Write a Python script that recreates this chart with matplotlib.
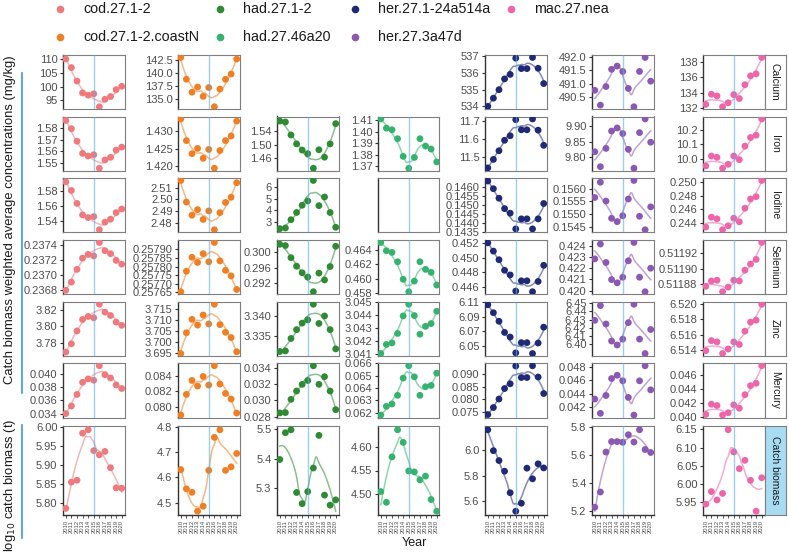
"""
Nutrient concentration / catch biomass facets per stock, 2010-2020.
"""

import numpy as np
import matplotlib
matplotlib.use("Agg")
import matplotlib.pyplot as plt
from matplotlib.lines import Line2D

# ── Style Config ───────────────────────────────────────────────
plt.rcParams.update({
    "font.family": ["Liberation Sans", "DejaVu Sans"],
    "font.size": 8,
    "figure.facecolor": "white",
    "axes.facecolor": "white",
})

FIG_W, FIG_H = 789, 552
TEXT = "#1a1a1a"
TICK_TEXT = "#4d4d4d"
FRAME = "#7f7f7f"
VLINE = "#5dade2"
BRACKET = "#3a9bdc"

# ── Data ───────────────────────────────────────────────────────
years = np.arange(2010, 2021)
nutrients = ["Calcium", "Iron", "Iodine", "Selenium", "Zinc", "Mercury", "Catch biomass"]
stocks = ["cod.27.1-2", "cod.27.1-2.coastN", "had.27.1-2", "had.27.46a20",
          "her.27.1-24a514a", "her.27.3a47d", "mac.27.nea"]
stock_colors = ["#ee7a7e", "#ef7f22", "#2e8b34", "#35b36e", "#1f2a77", "#8b59b3", "#ee66aa"]

cod_27_1_2 = {
    "Calcium": [110.0, 106.9, 102.0, 97.7, 96.9, 97.4, 92.7, 95.4, 96.4, 98.9, 100.1],
    "Iron": [1.5861, 1.5792, 1.5686, 1.5583, 1.5561, 1.5572, 1.5458, 1.5528, 1.5550, 1.5611, 1.5636],
    "Iodine": [1.5919, 1.5804, 1.5631, 1.5477, 1.5442, 1.5455, 1.5279, 1.5380, 1.5420, 1.5508, 1.5556],
    "Selenium": [0.23680, 0.23691, 0.23708, 0.23723, 0.23728, 0.23726, 0.23744, 0.23733, 0.23729, 0.23720, 0.23715],
    "Zinc": [3.7694, 3.7792, 3.7945, 3.8082, 3.8118, 3.8102, 3.8263, 3.8169, 3.8129, 3.8051, 3.8012],
    "Mercury": [0.03400, 0.03515, 0.03690, 0.03875, 0.03925, 0.03905, 0.04125, 0.03990, 0.03940, 0.03835, 0.03780],
    "Catch biomass": [5.787, 5.856, 5.861, 5.985, 5.994, 5.939, 5.928, 5.937, 5.894, 5.841, 5.840],
}
cod_27_1_2_coastN = {
    "Calcium": [143.0, 138.8, 136.3, 137.3, 135.5, 137.2, 133.5, 136.9, 138.8, 139.8, 142.7],
    "Iron": [1.4334, 1.4273, 1.4236, 1.4251, 1.4223, 1.4248, 1.4195, 1.4245, 1.4273, 1.4286, 1.4328],
    "Iodine": [2.5161, 2.4978, 2.4867, 2.4914, 2.4831, 2.4903, 2.4744, 2.4889, 2.4975, 2.5019, 2.5142],
    "Selenium": [0.257654, 0.257773, 0.257854, 0.257824, 0.257875, 0.257828, 0.257940, 0.257833, 0.257778, 0.257746, 0.257667],
    "Zinc": [3.6947, 3.7042, 3.7103, 3.7077, 3.7123, 3.7082, 3.7172, 3.7079, 3.7044, 3.7020, 3.6955],
    "Mercury": [0.07898, 0.08162, 0.08340, 0.08268, 0.08391, 0.08281, 0.08528, 0.08294, 0.08174, 0.08102, 0.07923],
    "Catch biomass": [4.631, 4.555, 4.541, 4.466, 4.486, 4.628, 4.759, 4.789, 4.628, 4.642, 4.695],
}
had_27_1_2 = {
    "Iron": [1.5682, 1.5654, 1.5278, 1.5019, 1.4840, 1.4736, 1.4313, 1.4849, 1.4633, 1.5019, 1.5607],
    "Iodine": [2.43, 2.49, 3.20, 3.82, 4.44, 4.81, 6.57, 4.41, 5.15, 3.82, 2.55],
    "Selenium": [0.30217, 0.30183, 0.29861, 0.29635, 0.29461, 0.29348, 0.28957, 0.29452, 0.29270, 0.29626, 0.30165],
    "Zinc": [3.33115, 3.33130, 3.33443, 3.33664, 3.33828, 3.33910, 3.34303, 3.33820, 3.34008, 3.33664, 3.33180],
    "Mercury": [0.02846, 0.02850, 0.03012, 0.03114, 0.03196, 0.03243, 0.03424, 0.03196, 0.03290, 0.03114, 0.02886],
    "Catch biomass": [5.398, 5.489, 5.499, 5.286, 5.248, 5.289, 5.369, 5.480, 5.277, 5.243, 5.261],
}
had_27_46a20 = {
    "Iron": [1.4112, 1.4032, 1.4018, 1.3940, 1.3786, 1.3683, 1.3777, 1.3940, 1.3876, 1.3850, 1.3738],
    "Iodine": None,
    "Selenium": [0.46501, 0.46387, 0.46364, 0.46235, 0.45993, 0.45822, 0.45969, 0.46235, 0.46130, 0.46089, 0.45914],
    "Zinc": [3.04105, 3.04175, 3.04187, 3.04260, 3.04395, 3.04485, 3.04398, 3.04254, 3.04315, 3.04336, 3.04431],
    "Mercury": [0.0618, 0.0625, 0.0627, 0.0634, 0.0648, 0.0658, 0.0649, 0.0634, 0.0641, 0.0642, 0.0652],
    "Catch biomass": [4.505, 4.482, 4.579, 4.637, 4.610, 4.549, 4.547, 4.530, 4.538, 4.488, 4.463],
}
her_27_1_24a514a = {
    "Calcium": [534.00, 534.49, 535.00, 535.65, 535.92, 536.90, 536.27, 536.27, 536.94, 536.29, 535.37],
    "Iron": [11.440, 11.487, 11.535, 11.593, 11.618, 11.707, 11.651, 11.651, 11.711, 11.649, 11.565],
    "Iodine": [0.14630, 0.14588, 0.14536, 0.14479, 0.14454, 0.14368, 0.14423, 0.14423, 0.14368, 0.14423, 0.14507],
    "Selenium": [0.45200, 0.45088, 0.44971, 0.44828, 0.44765, 0.44546, 0.44685, 0.44685, 0.44537, 0.44676, 0.44895],
    "Zinc": [6.1068, 6.0958, 6.0839, 6.0684, 6.0620, 6.0400, 6.0542, 6.0542, 6.0391, 6.0537, 6.0757],
    "Mercury": [0.0738, 0.0766, 0.0800, 0.0842, 0.0861, 0.0932, 0.0886, 0.0886, 0.0933, 0.0888, 0.0822],
    "Catch biomass": [6.162, 5.997, 5.919, 5.835, 5.665, 5.519, 5.582, 5.859, 5.775, 5.893, 5.861],
}
her_27_3a47d = {
    "Calcium": [490.76, 490.21, 490.90, 491.54, 491.66, 491.46, 490.83, 490.15, 491.46, 491.98, 491.10],
    "Iron": [9.818, 9.770, 9.829, 9.885, 9.895, 9.877, 9.826, 9.765, 9.880, 9.924, 9.849],
    "Iodine": [0.15565, 0.15625, 0.15551, 0.15483, 0.15470, 0.15493, 0.15559, 0.15632, 0.15491, 0.15438, 0.15528],
    "Selenium": [0.42283, 0.42415, 0.42251, 0.42099, 0.42070, 0.42120, 0.42266, 0.42429, 0.42120, 0.41991, 0.42200],
    "Zinc": [6.4290, 6.4468, 6.4246, 6.4040, 6.3992, 6.4063, 6.4262, 6.4484, 6.4063, 6.3889, 6.4179],
    "Mercury": [0.04320, 0.04107, 0.04373, 0.04625, 0.04674, 0.04591, 0.04344, 0.04082, 0.04591, 0.04815, 0.04457],
    "Catch biomass": [5.228, 5.336, 5.619, 5.693, 5.693, 5.688, 5.742, 5.690, 5.777, 5.637, 5.616],
}
mac_27_nea = {
    "Calcium": [132.47, 133.79, 133.57, 132.17, 132.68, 133.74, 133.23, 135.02, 136.17, 136.43, 138.55],
    "Iron": [9.950, 10.018, 10.009, 9.934, 9.961, 10.018, 9.993, 10.086, 10.145, 10.161, 10.273],
    "Iodine": [0.24337, 0.24483, 0.24459, 0.24298, 0.24356, 0.24468, 0.24415, 0.24615, 0.24751, 0.24785, 0.25024],
    "Selenium": [0.511877, 0.511884, 0.511885, 0.511870, 0.511876, 0.511885, 0.511884, 0.511898, 0.511906, 0.511912, 0.511934],
    "Zinc": [6.51391, 6.51523, 6.51506, 6.51353, 6.51413, 6.51506, 6.51472, 6.51647, 6.51766, 6.51791, 6.52000],
    "Mercury": [0.04036, 0.04182, 0.04163, 0.04027, 0.04060, 0.04172, 0.04124, 0.04317, 0.04446, 0.04480, 0.04730],
    "Catch biomass": [5.9445, 5.979, 5.956, 5.974, 6.149, 6.088, 6.042, 6.065, 6.010, 5.925, 6.017],
}
stock_data = [cod_27_1_2, cod_27_1_2_coastN, had_27_1_2, had_27_46a20,
              her_27_1_24a514a, her_27_3a47d, mac_27_nea]

# y-axis breaks per panel (rows follow `nutrients`)
cod_27_1_2_ticks = [[95, 100, 105, 110], [1.55, 1.56, 1.57, 1.58], [1.54, 1.56, 1.58],
                    [0.2368, 0.2370, 0.2372, 0.2374], [3.78, 3.80, 3.82],
                    [0.034, 0.036, 0.038, 0.040], [5.80, 5.85, 5.90, 5.95, 6.00]]
cod_27_1_2_coastN_ticks = [[135.0, 137.5, 140.0, 142.5], [1.420, 1.425, 1.430], [2.48, 2.49, 2.50, 2.51],
                           [0.25765, 0.25770, 0.25775, 0.25780, 0.25785, 0.25790],
                           [3.695, 3.700, 3.705, 3.710, 3.715], [0.080, 0.082, 0.084], [4.5, 4.6, 4.7, 4.8]]
had_27_1_2_ticks = [None, [1.46, 1.50, 1.54], [3, 4, 5, 6], [0.292, 0.296, 0.300],
                    [3.335, 3.340], [0.028, 0.030, 0.032, 0.034], [5.3, 5.4, 5.5]]
had_27_46a20_ticks = [None, [1.37, 1.38, 1.39, 1.40, 1.41], None, [0.458, 0.460, 0.462, 0.464],
                      [3.041, 3.042, 3.043, 3.044, 3.045], [0.062, 0.063, 0.064, 0.065, 0.066],
                      [4.50, 4.55, 4.60]]
her_27_1_24a514a_ticks = [[534, 535, 536, 537], [11.5, 11.6, 11.7],
                          [0.1435, 0.1440, 0.1445, 0.1450, 0.1455, 0.1460],
                          [0.446, 0.448, 0.450, 0.452], [6.05, 6.07, 6.09, 6.11],
                          [0.075, 0.080, 0.085, 0.090], [5.6, 5.8, 6.0]]
her_27_3a47d_ticks = [[490.5, 491.0, 491.5, 492.0], [9.80, 9.85, 9.90], [0.1545, 0.1550, 0.1555, 0.1560],
                      [0.420, 0.421, 0.422, 0.423, 0.424], [6.40, 6.41, 6.42, 6.43, 6.44, 6.45],
                      [0.042, 0.044, 0.046, 0.048], [5.2, 5.4, 5.6, 5.8]]
mac_27_nea_ticks = [[132, 134, 136, 138], [10.0, 10.1, 10.2], [0.244, 0.246, 0.248, 0.250],
                    [0.51188, 0.51190, 0.51192], [6.514, 6.516, 6.518, 6.520],
                    [0.040, 0.042, 0.044, 0.046], [5.95, 6.00, 6.05, 6.10, 6.15]]
stock_ticks = [cod_27_1_2_ticks, cod_27_1_2_coastN_ticks, had_27_1_2_ticks, had_27_46a20_ticks,
               her_27_1_24a514a_ticks, her_27_3a47d_ticks, mac_27_nea_ticks]


# ── Helpers ────────────────────────────────────────────────────
def loess(x, y, xs, span=0.75, degree=2):
    """Local quadratic regression with tricube weights (R's loess default)."""
    x = np.asarray(x, float)
    y = np.asarray(y, float)
    q = int(np.floor(len(x) * span))
    out = []
    for x0 in xs:
        d = np.abs(x - x0)
        h = np.sort(d)[q - 1] * 1.0001
        w = np.clip(1 - (d / h) ** 3, 0, None) ** 3
        A = np.vander(x - x0, degree + 1)
        sw = np.sqrt(w)
        coef, *_ = np.linalg.lstsq(A * sw[:, None], y * sw, rcond=None)
        out.append(coef[-1])
    return np.array(out)


def decimals(ticks):
    for d in range(8):
        if all(abs(round(t, d) - t) < 1e-9 for t in ticks):
            return d
    return 8


def px_rect(left, top, w, h):
    return [left / FIG_W, 1 - (top + h) / FIG_H, w / FIG_W, h / FIG_H]


# ── Layout ─────────────────────────────────────────────────────
col_left = [63, 178, 277, 378, 485, 592, 703]
panel_w = 61.5
row_top = [55, 116.5, 178, 240, 301.8, 363.3, 425.7]
row_h = [54.2, 54.2, 54.2, 54.2, 54.2, 54.2, 89.6]
strip_w = 21

fig = plt.figure(figsize=(FIG_W / 100, FIG_H / 100), dpi=100)
xs = np.linspace(2010, 2020, 80)

for i, nut in enumerate(nutrients):
    last_row = i == len(nutrients) - 1
    for j, (data, ticks, color) in enumerate(zip(stock_data, stock_ticks, stock_colors)):
        if nut not in data:
            continue
        ax = fig.add_axes(px_rect(col_left[j], row_top[i], panel_w, row_h[i]))
        values = data[nut]
        if values is not None:
            ax.plot(xs, loess(years, values, xs), color=color, lw=1.1, alpha=0.55, zorder=2)
            ax.scatter(years, values, s=24, color=color, edgecolors="none", zorder=3)
            tk = ticks[i]
            ax.set_yticks(tk)
            ax.set_yticklabels([f"{t:.{decimals(tk)}f}" for t in tk])
        else:
            ax.set_yticks([])
            ax.set_ylim(0, 1)
        ax.axvline(2015, color=VLINE, lw=1.0, alpha=0.6, zorder=4)
        ax.set_xlim(2009.5, 2020.5)

        for side in ["top", "right", "bottom"]:
            ax.spines[side].set_color(FRAME)
            ax.spines[side].set_linewidth(0.8)
        ax.spines["left"].set_color("#333333")
        ax.spines["left"].set_linewidth(1.0)
        ax.tick_params(axis="y", length=2.5, width=0.8, color="#333333",
                       labelsize=8, labelcolor=TICK_TEXT, pad=1.5)

        if last_row:
            ax.spines["bottom"].set_color("#333333")
            ax.spines["bottom"].set_linewidth(1.0)
            ax.set_xticks(years)
            ax.set_xticklabels([str(y) for y in years], rotation=90)
            ax.tick_params(axis="x", length=2.5, width=0.6, color="#333333",
                           labelsize=4.2, labelcolor=TICK_TEXT, pad=1)
        else:
            ax.set_xticks([])

    # facet strip on the right
    sax = fig.add_axes(px_rect(col_left[-1] + panel_w, row_top[i], strip_w, row_h[i]))
    sax.set_facecolor("#a8dcf2" if last_row else "white")
    sax.set_xticks([])
    sax.set_yticks([])
    for sp in sax.spines.values():
        sp.set_color(FRAME)
        sp.set_linewidth(0.8)
    sax.text(0.5, 0.5, nut, rotation=-90, ha="center", va="center",
             fontsize=7.5, color=TEXT, transform=sax.transAxes)

# ── Axis titles and brackets ───────────────────────────────────
fig.text(10 / FIG_W, 1 - 220 / FIG_H, "Catch biomass weighted average concentrations (mg/kg)",
         rotation=90, ha="center", va="center", fontsize=9.4, color=TEXT)
fig.text(10 / FIG_W, 1 - 485 / FIG_H, r"log$_{10}$ catch biomass (t)",
         rotation=90, ha="center", va="center", fontsize=9.4, color=TEXT)
fig.add_artist(Line2D([22 / FIG_W] * 2, [1 - 73 / FIG_H, 1 - 393 / FIG_H], color=BRACKET, lw=1.2))
fig.add_artist(Line2D([22 / FIG_W] * 2, [1 - 425 / FIG_H, 1 - 538 / FIG_H], color=BRACKET, lw=1.2))
fig.text(414 / FIG_W, 1 - 543 / FIG_H, "Year", ha="center", va="center", fontsize=9, color=TEXT)

# ── Legend (two rows, filled column-wise) ─────────────────────
leg_x = [60, 220, 355, 511]
leg_y = [9, 37]
for k, (name, color) in enumerate(zip(stocks, stock_colors)):
    cx, ry = leg_x[k // 2], leg_y[k % 2]
    fig.add_artist(Line2D([cx / FIG_W], [1 - ry / FIG_H], marker="o", markersize=5.5,
                          color=color, markeredgewidth=0, linestyle="none"))
    fig.text((cx + 23) / FIG_W, 1 - ry / FIG_H, name, ha="left", va="center",
             fontsize=10.3, color=TEXT)

fig.savefig("out.png", dpi=100, facecolor="white")
plt.close(fig)
